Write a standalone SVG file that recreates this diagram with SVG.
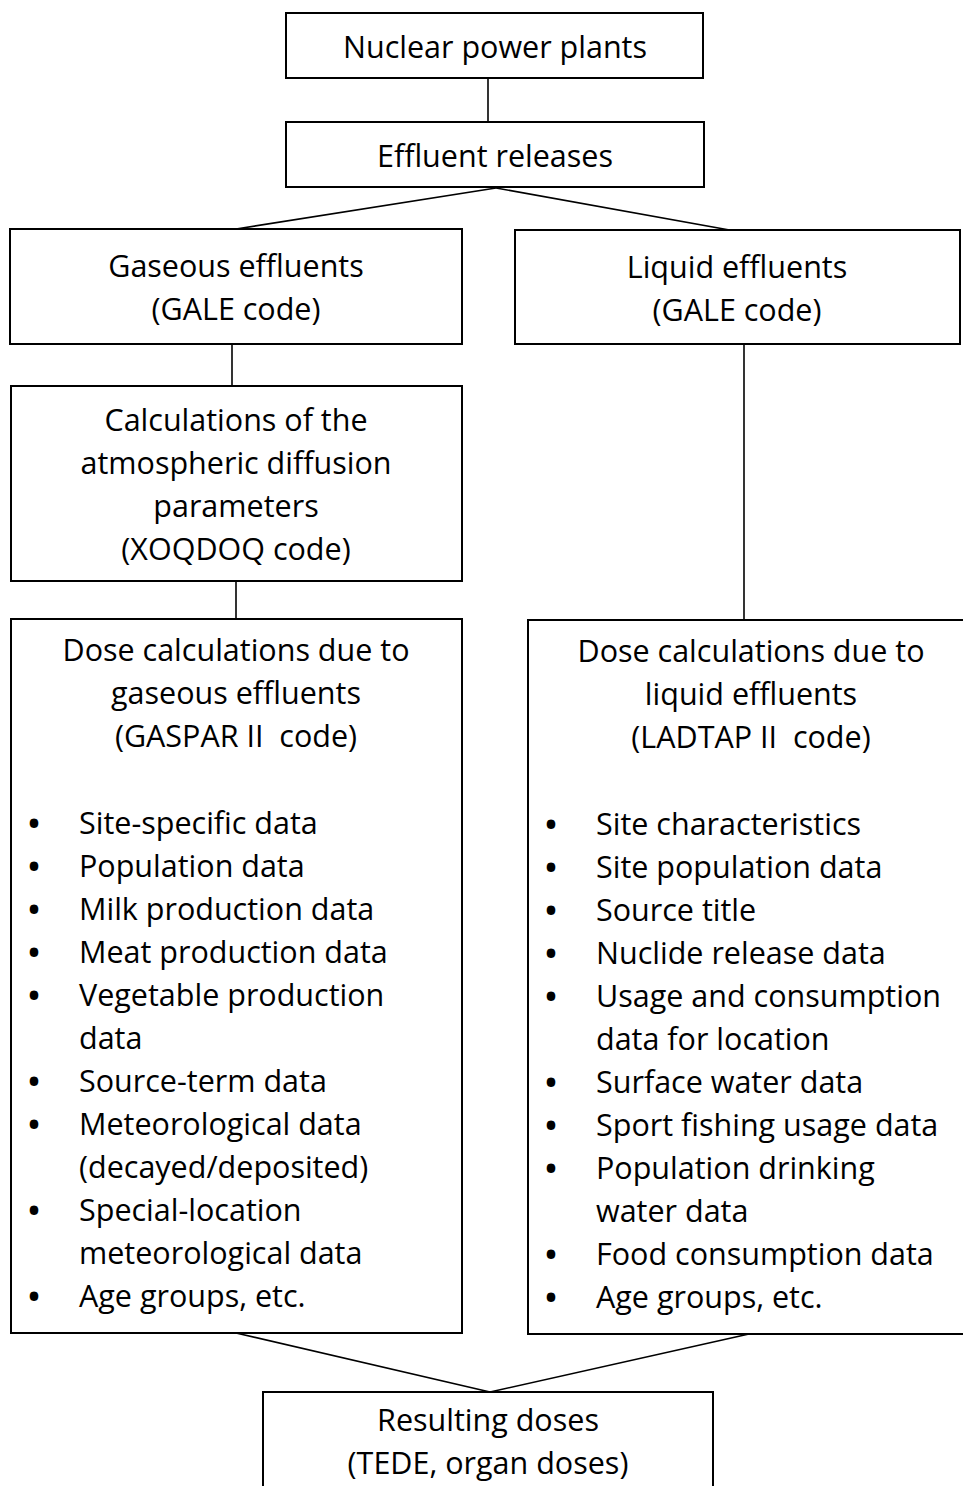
<svg xmlns="http://www.w3.org/2000/svg" width="963" height="1486" viewBox="0 0 963 1486">
<style>
.box{fill:#fff;stroke:#000;stroke-width:2}
.c{fill:none;stroke:#000;stroke-width:1.6}
text{font-family:"Open Sans","Liberation Sans",sans-serif;font-size:30.5px;fill:#000}
.m{text-anchor:middle}
.b{font-weight:bold;text-anchor:middle}
</style>
<rect width="963" height="1486" fill="#fff"/>
<g id="connectors">
<line class="c" x1="488" y1="78" x2="488" y2="122"/>
<line class="c" x1="496" y1="188" x2="236" y2="229"/>
<line class="c" x1="496" y1="188" x2="735" y2="231"/>
<line class="c" x1="232" y1="344" x2="232" y2="386"/>
<line class="c" x1="236" y1="581" x2="236" y2="619"/>
<line class="c" x1="744" y1="344" x2="744" y2="620"/>
<line class="c" x1="236" y1="1333" x2="490" y2="1392"/>
<line class="c" x1="749" y1="1334" x2="490" y2="1392"/>
</g>
<g id="nuclear">
<rect class="box" x="286" y="13" width="417" height="65"/>
<text class="m" x="495" y="58">Nuclear power plants</text>
</g>
<g id="effluent">
<rect class="box" x="286" y="122" width="418" height="65"/>
<text class="m" x="495" y="167">Effluent releases</text>
</g>
<g id="gaseous">
<rect class="box" x="10" y="229" width="452" height="115"/>
<text class="m" x="236" y="277">Gaseous effluents</text>
<text class="m" x="236" y="320">(GALE code)</text>
</g>
<g id="liquid">
<rect class="box" x="515" y="230" width="445" height="114"/>
<text class="m" x="737" y="278">Liquid effluents</text>
<text class="m" x="737" y="321">(GALE code)</text>
</g>
<g id="xoqdoq">
<rect class="box" x="11" y="386" width="451" height="195"/>
<text class="m" x="236" y="431">Calculations of the</text>
<text class="m" x="236" y="474">atmospheric diffusion</text>
<text class="m" x="236" y="517">parameters</text>
<text class="m" x="236" y="560">(XOQDOQ code)</text>
</g>
<g id="gaspar">
<rect class="box" x="11" y="619" width="451" height="714"/>
<text class="m" x="236" y="661">Dose calculations due to</text>
<text class="m" x="236" y="704">gaseous effluents</text>
<text class="m" x="236" y="747" xml:space="preserve">(GASPAR II  code)</text>
<g>
<text class="b" x="34" y="834">•</text><text x="79" y="834">Site-specific data</text>
<text class="b" x="34" y="877">•</text><text x="79" y="877">Population data</text>
<text class="b" x="34" y="920">•</text><text x="79" y="920">Milk production data</text>
<text class="b" x="34" y="963">•</text><text x="79" y="963">Meat production data</text>
<text class="b" x="34" y="1006">•</text><text x="79" y="1006">Vegetable production</text>
<text x="79" y="1049">data</text>
<text class="b" x="34" y="1092">•</text><text x="79" y="1092">Source-term data</text>
<text class="b" x="34" y="1135">•</text><text x="79" y="1135">Meteorological data</text>
<text x="79" y="1178">(decayed/deposited)</text>
<text class="b" x="34" y="1221">•</text><text x="79" y="1221">Special-location</text>
<text x="79" y="1264">meteorological data</text>
<text class="b" x="34" y="1307">•</text><text x="79" y="1307">Age groups, etc.</text>
</g>
</g>
<g id="ladtap">
<rect class="box" x="528" y="620" width="440" height="714"/>
<text class="m" x="751" y="662">Dose calculations due to</text>
<text class="m" x="751" y="705">liquid effluents</text>
<text class="m" x="751" y="748" xml:space="preserve">(LADTAP II  code)</text>
<g>
<text class="b" x="551" y="835">•</text><text x="596" y="835">Site characteristics</text>
<text class="b" x="551" y="878">•</text><text x="596" y="878">Site population data</text>
<text class="b" x="551" y="921">•</text><text x="596" y="921">Source title</text>
<text class="b" x="551" y="964">•</text><text x="596" y="964">Nuclide release data</text>
<text class="b" x="551" y="1007">•</text><text x="596" y="1007">Usage and consumption</text>
<text x="596" y="1050">data for location</text>
<text class="b" x="551" y="1093">•</text><text x="596" y="1093">Surface water data</text>
<text class="b" x="551" y="1136">•</text><text x="596" y="1136">Sport fishing usage data</text>
<text class="b" x="551" y="1179">•</text><text x="596" y="1179">Population drinking</text>
<text x="596" y="1222">water data</text>
<text class="b" x="551" y="1265">•</text><text x="596" y="1265">Food consumption data</text>
<text class="b" x="551" y="1308">•</text><text x="596" y="1308">Age groups, etc.</text>
</g>
</g>
<g id="result">
<rect class="box" x="263" y="1392" width="450" height="100"/>
<text class="m" x="488" y="1431">Resulting doses</text>
<text class="m" x="488" y="1474">(TEDE, organ doses)</text>
</g>
</svg>
